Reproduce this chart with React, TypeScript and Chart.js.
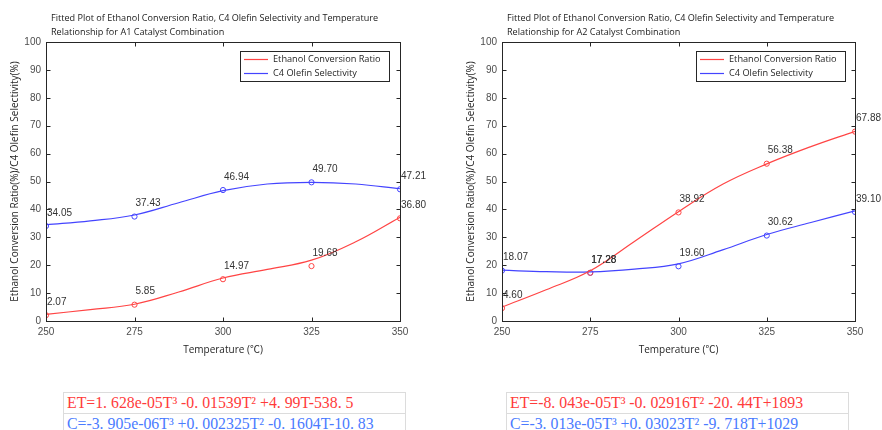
import React, { useEffect, useRef } from "react";
import { Chart, registerables } from "chart.js";
Chart.register(...registerables);

// ---------- data ----------
const temperatures = [250, 275, 300, 325, 350];
const a1Ethanol = [2.07, 5.85, 14.97, 19.68, 36.8];
const a1C4 = [34.05, 37.43, 46.94, 49.7, 47.21];
const a2Ethanol = [4.6, 17.28, 38.92, 56.38, 67.88];
const a2C4 = [18.07, 17.28, 19.6, 30.62, 39.1];

// fitted curves
const fitTemperatures = [250, 262.5, 275, 287.5, 300, 312.5, 325, 337.5, 350];
const a1EthanolFit = [2.4, 4.1, 6.0, 10.4, 15.4, 18.5, 21.8, 28.4, 37.2];
const a1C4Fit = [34.5, 35.9, 38.0, 42.4, 46.7, 49.1, 49.7, 49.1, 47.4];
const a2EthanolFit = [5.0, 11.2, 18.0, 28.5, 39.2, 49.0, 56.3, 62.5, 68.0];
const a2C4Fit = [18.2, 17.7, 17.6, 18.6, 20.5, 25.5, 31.0, 35.3, 39.5];

const xTicks = { min: 250, max: 350, step: 25 };
const yTicks = { min: 0, max: 100, step: 10 };

const a1Title = [
  "Fitted Plot of Ethanol Conversion Ratio, C4 Olefin Selectivity and Temperature",
  "Relationship for A1 Catalyst Combination",
];
const a2Title = [
  "Fitted Plot of Ethanol Conversion Ratio, C4 Olefin Selectivity and Temperature",
  "Relationship for A2 Catalyst Combination",
];
const seriesNames = ["Ethanol Conversion Ratio", "C4 Olefin Selectivity"];
const xTitle = "Temperature (℃)";
const yTitle = "Ethanol Conversion Ratio(%)/C4 Olefin Selectivity(%)";

const a1Equations = [
  "ET=1. 628e-05T³ -0. 01539T² +4. 99T-538. 5",
  "C=-3. 905e-06T³ +0. 002325T² -0. 1604T-10. 83",
];
const a2Equations = [
  "ET=-8. 043e-05T³ -0. 02916T² -20. 44T+1893",
  "C=-3. 013e-05T³ +0. 03023T² -9. 718T+1029",
];

// ---------- style ----------
const RED = "#ff4444";
const BLUE = "#4444ff";
const EQ_RED = "#ff3b3b";
const EQ_BLUE = "#4a7bff";
const AXIS = "#262626";
const TICK_TEXT = "#4d4d4d";
const UI_FONT = "'Open Sans', 'Noto Sans CJK SC', sans-serif";
const NUM_FONT = "'Liberation Sans', Arial, sans-serif";

const panelPlugin = {
  id: "panel",
  afterDraw(chart: any) {
    const opts = chart.options.plugins.panel;
    const { ctx } = chart;
    const { left, right, top, bottom } = chart.chartArea;
    const xs = chart.scales.x;
    const ys = chart.scales.y;
    ctx.save();
    // frame
    const L = Math.round(left) + 0.5;
    const R = Math.round(right) + 0.5;
    const T = Math.round(top) + 0.5;
    const B = Math.round(bottom) + 0.5;
    ctx.strokeStyle = AXIS;
    ctx.lineWidth = 1;
    ctx.strokeRect(L, T, R - L, B - T);
    // inward ticks
    const tl = 4;
    ctx.beginPath();
    for (let v = xTicks.min; v <= xTicks.max; v += xTicks.step) {
      const px = Math.round(xs.getPixelForValue(v)) + 0.5;
      ctx.moveTo(px, B);
      ctx.lineTo(px, B - tl);
      ctx.moveTo(px, T);
      ctx.lineTo(px, T + tl);
    }
    for (let v = yTicks.min; v <= yTicks.max; v += yTicks.step) {
      const py = Math.round(ys.getPixelForValue(v)) + 0.5;
      ctx.moveTo(L, py);
      ctx.lineTo(L + tl, py);
      ctx.moveTo(R, py);
      ctx.lineTo(R - tl, py);
    }
    ctx.stroke();

    // value labels
    ctx.fillStyle = "#333333";
    ctx.font = `10px ${NUM_FONT}`;
    ctx.textAlign = "left";
    ctx.textBaseline = "middle";
    chart.data.datasets.forEach((ds: any, i: number) => {
      if (!ds.valueLabels) return;
      const meta = chart.getDatasetMeta(i);
      meta.data.forEach((pt: any, j: number) => {
        const v = ds.data[j].y;
        ctx.fillText(v.toFixed(2), pt.x + 1, pt.y - 13);
      });
    });

    // legend
    const lg = opts.legend;
    ctx.fillStyle = "#ffffff";
    ctx.fillRect(lg.x, lg.y, lg.w, lg.h);
    ctx.strokeStyle = AXIS;
    ctx.lineWidth = 1;
    ctx.strokeRect(lg.x + 0.5, lg.y + 0.5, lg.w, lg.h);
    ctx.font = `9.2px ${UI_FONT}`;
    ctx.fillStyle = "#262626";
    let row = 0;
    chart.data.datasets.forEach((ds: any) => {
      if (!ds.inLegend) return;
      const yy = lg.y + 8 + row * 14;
      ctx.strokeStyle = ds.borderColor;
      ctx.lineWidth = 1.2;
      ctx.beginPath();
      ctx.moveTo(lg.x + 4, yy + 0.5);
      ctx.lineTo(lg.x + 28, yy + 0.5);
      ctx.stroke();
      ctx.fillText(ds.label, lg.x + 33, yy);
      row++;
    });

    // title
    ctx.fillStyle = "#1a1a1a";
    ctx.font = `9.1px ${UI_FONT}`;
    opts.title.forEach((line: string, k: number) => {
      ctx.fillText(line, 51, 18.5 + k * 13.5);
    });
    ctx.restore();
  },
};

function makeConfig(
  eth: number[],
  c4: number[],
  ethFit: number[],
  c4Fit: number[],
  title: string[],
  padRight: number
): any {
  const pts = (arr: number[]) => arr.map((v, i) => ({ x: temperatures[i], y: v }));
  const fit = (arr: number[]) => arr.map((v, i) => ({ x: fitTemperatures[i], y: v }));
  return {
    type: "line",
    data: {
      datasets: [
        {
          label: seriesNames[0],
          data: fit(ethFit),
          borderColor: RED,
          borderWidth: 1.2,
          pointRadius: 0,
          tension: 0.4,
          inLegend: true,
        },
        {
          label: seriesNames[1],
          data: fit(c4Fit),
          borderColor: BLUE,
          borderWidth: 1.2,
          pointRadius: 0,
          tension: 0.4,
          inLegend: true,
        },
        {
          label: seriesNames[0] + " data",
          data: pts(eth),
          showLine: false,
          borderColor: RED,
          backgroundColor: "rgba(0,0,0,0)",
          pointRadius: 2.6,
          pointBorderWidth: 1,
          valueLabels: true,
        },
        {
          label: seriesNames[1] + " data",
          data: pts(c4),
          showLine: false,
          borderColor: BLUE,
          backgroundColor: "rgba(0,0,0,0)",
          pointRadius: 2.6,
          pointBorderWidth: 1,
          valueLabels: true,
        },
      ],
    },
    options: {
      responsive: false,
      animation: false,
      events: [],
      layout: { padding: { left: 0, top: 42, right: padRight, bottom: 0 } },
      plugins: {
        legend: { display: false },
        tooltip: { enabled: false },
        panel: { title, legend: { x: 240, y: 51, w: 149, h: 30 } },
      },
      scales: {
        x: {
          type: "linear",
          min: xTicks.min,
          max: xTicks.max,
          ticks: {
            stepSize: xTicks.step,
            color: TICK_TEXT,
            font: { family: NUM_FONT, size: 10 },
            padding: 5,
            maxRotation: 0,
          },
          grid: { display: false, drawTicks: false },
          border: { display: false },
          title: {
            display: true,
            text: xTitle,
            color: "#262626",
            font: { family: UI_FONT, size: 10 },
            padding: { top: 0, bottom: 9 },
          },
          afterFit: (s: any) => {
            s.height = 44;
          },
        },
        y: {
          min: yTicks.min,
          max: yTicks.max,
          ticks: {
            stepSize: yTicks.step,
            color: TICK_TEXT,
            font: { family: NUM_FONT, size: 10 },
            padding: 5,
          },
          grid: { display: false, drawTicks: false },
          border: { display: false },
          title: {
            display: true,
            text: yTitle,
            color: "#262626",
            font: { family: UI_FONT, size: 10 },
            padding: { top: 9, bottom: 0 },
          },
          afterFit: (s: any) => {
            s.width = 46;
          },
        },
      },
    },
    plugins: [panelPlugin],
  };
}

function Panel(props: { config: any; left: number; width: number }) {
  const ref = useRef<HTMLCanvasElement>(null);
  useEffect(() => {
    const chart = new Chart(ref.current as HTMLCanvasElement, props.config);
    return () => chart.destroy();
  }, []);
  return (
    <canvas
      ref={ref}
      width={props.width}
      height={365}
      style={{ position: "absolute", left: props.left, top: 0, width: props.width, height: 365 }}
    />
  );
}

function EquationBox(props: { lines: string[]; left: number }) {
  const colors = [EQ_RED, EQ_BLUE];
  return (
    <div
      style={{
        position: "absolute",
        left: props.left,
        top: 392,
        width: 341,
        border: "1px solid #dcdcdc",
        borderBottom: "none",
        background: "#fff",
      }}
    >
      {props.lines.map((l, i) => (
        <div
          key={i}
          style={{
            height: 20,
            lineHeight: "20px",
            borderTop: i > 0 ? "1px solid #dcdcdc" : "none",
            paddingLeft: 3,
            color: colors[i],
            fontFamily: "'Liberation Serif', serif",
            fontSize: 15.8,
            whiteSpace: "nowrap",
          }}
        >
          {l}
        </div>
      ))}
    </div>
  );
}

export default function App() {
  const c1 = makeConfig(a1Ethanol, a1C4, a1EthanolFit, a1C4Fit, a1Title, 41);
  const c2 = makeConfig(a2Ethanol, a2C4, a2EthanolFit, a2C4Fit, a2Title, 27);
  return (
    <div
      style={{
        position: "absolute",
        left: 0,
        top: 0,
        width: 882,
        height: 430,
        overflow: "hidden",
        background: "#ffffff",
      }}
    >
      <Panel config={c1} left={0} width={441} />
      <Panel config={c2} left={456} width={426} />
      <EquationBox lines={a1Equations} left={63} />
      <EquationBox lines={a2Equations} left={506} />
    </div>
  );
}
